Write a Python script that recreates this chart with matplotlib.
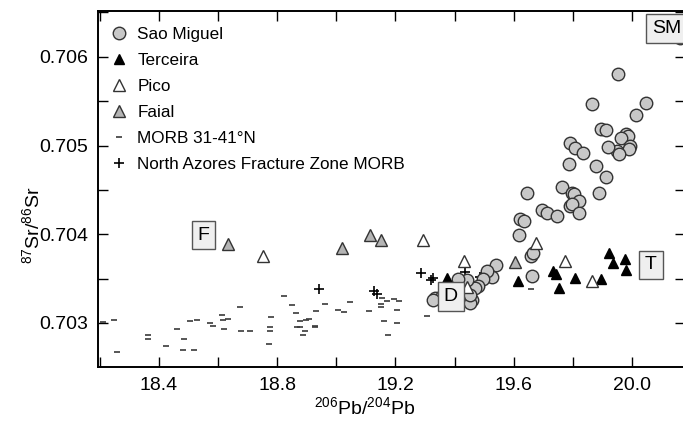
#%%############################################################################
# 87Sr/86Sr vs 206Pb/204Pb for Azores lavas and nearby MORB
###############################################################################
import matplotlib.pyplot as plt
from matplotlib.ticker import MultipleLocator, FormatStrFormatter

plt.rcParams['font.family'] = ['Liberation Sans', 'DejaVu Sans']
plt.rcParams['mathtext.fontset'] = 'custom'
plt.rcParams['mathtext.rm'] = 'Liberation Sans'
plt.rcParams['mathtext.it'] = 'Liberation Sans:italic'

#%%############################################################################
# Data
###############################################################################
saoMiguel_Pb = [20.163, 19.952, 19.865, 20.046, 20.014, 19.895, 19.912, 19.979,
                19.988, 19.964, 19.993, 19.989, 19.948, 19.957, 19.920, 19.791,
                19.807, 19.833, 19.788, 19.877, 19.911, 19.889, 19.646, 19.762,
                19.798, 19.805, 19.820, 19.789, 19.797, 19.820, 19.697, 19.712,
                19.747, 19.621, 19.635, 19.618, 19.657, 19.666, 19.661, 19.540,
                19.526, 19.509, 19.497, 19.480, 19.469, 19.458, 19.452, 19.452,
                19.441, 19.412, 19.334, 19.356, 19.328]
saoMiguel_Sr = [0.70621, 0.70581, 0.70547, 0.70548, 0.70534, 0.70519, 0.70517, 0.70513,
                0.70511, 0.70508, 0.70499, 0.70496, 0.70494, 0.70490, 0.70498, 0.70503,
                0.70497, 0.70492, 0.70479, 0.70477, 0.70464, 0.70447, 0.70447, 0.70453,
                0.70446, 0.70445, 0.70437, 0.70432, 0.70434, 0.70424, 0.70427, 0.70424,
                0.70421, 0.70417, 0.70415, 0.70399, 0.70375, 0.70379, 0.70353, 0.70365,
                0.70352, 0.70359, 0.70350, 0.70342, 0.70339, 0.70326, 0.70322, 0.70332,
                0.70348, 0.70350, 0.70328, 0.70330, 0.70326]

terceira_Pb = [19.375, 19.613, 19.732, 19.744, 19.754, 19.807, 19.895, 19.924,
               19.937, 19.978, 19.980]
terceira_Sr = [0.70351, 0.70347, 0.70359, 0.70355, 0.70339, 0.70351, 0.70350, 0.70379,
               0.70368, 0.70372, 0.70360]

pico_Pb = [18.753, 19.294, 19.432, 19.442, 19.675, 19.775, 19.865]
pico_Sr = [0.70375, 0.70394, 0.70370, 0.70340, 0.70390, 0.70370, 0.70347]

faial_Pb = [18.634, 19.020, 19.114, 19.152, 19.603]
faial_Sr = [0.70389, 0.70385, 0.70399, 0.70393, 0.70369]

morb_Pb = [18.212, 18.249, 18.257, 18.364, 18.364, 18.424, 18.460, 18.486, 18.480,
           18.519, 18.505, 18.528, 18.573, 18.582, 18.612, 18.616, 18.634, 18.621,
           18.674, 18.676, 18.709, 18.778, 18.777, 18.777, 18.773, 18.824, 18.849,
           18.864, 18.876, 18.897, 18.909, 18.868, 18.878, 18.894, 18.888, 18.928,
           18.928, 18.930, 18.962, 19.007, 19.027, 19.046, 19.110, 19.155, 19.170,
           19.150, 19.150, 19.196, 19.213, 19.162, 19.206, 19.206, 19.176, 19.306,
           19.660]
morb_Sr = [0.70301, 0.70303, 0.70267, 0.70286, 0.70282, 0.70274, 0.70293, 0.70282, 0.70269,
           0.70270, 0.70302, 0.70303, 0.70300, 0.70297, 0.70309, 0.70303, 0.70304, 0.70293,
           0.70318, 0.70291, 0.70291, 0.70307, 0.70295, 0.70291, 0.70276, 0.70330, 0.70320,
           0.70311, 0.70302, 0.70303, 0.70304, 0.70295, 0.70296, 0.70291, 0.70286, 0.70297,
           0.70295, 0.70314, 0.70321, 0.70315, 0.70312, 0.70324, 0.70314, 0.70328, 0.70325,
           0.70321, 0.70318, 0.70327, 0.70325, 0.70302, 0.70315, 0.70300, 0.70287, 0.70308,
           0.70338]

nafz_Pb = [18.942, 19.128, 19.136, 19.286, 19.320, 19.328, 19.435, 19.486]
nafz_Sr = [0.70338, 0.70336, 0.70333, 0.70356, 0.70348, 0.70351, 0.70357, 0.70352]

# island labels: text, Pb, Sr
boxLabels = ['F', 'D', 'T', 'SM']
box_Pb = [18.550, 19.387, 20.064, 20.068]
box_Sr = [0.70399, 0.70330, 0.703654, 0.70632]

#%%############################################################################
# Plot
###############################################################################
fig = plt.figure(figsize=(6.83, 4.25), dpi=100)
ax = fig.add_axes([0.1435, 0.1365, 0.8594, 0.8377])

ax.plot(morb_Pb, morb_Sr, '_', color='#3a3a3a', ms=5, mew=1.2, label='MORB 31-41°N')
ax.plot(nafz_Pb, nafz_Sr, '+', color='black', ms=6.5, mew=1.2,
        label='North Azores Fracture Zone MORB')
ax.plot(saoMiguel_Pb, saoMiguel_Sr, 'o', mfc='#c8c8c8', mec='#333333', ms=9, mew=1.0,
        label='Sao Miguel')
ax.plot(terceira_Pb, terceira_Sr, '^', color='black', ms=7, label='Terceira')
ax.plot(pico_Pb, pico_Sr, '^', mfc='white', mec='#333333', ms=9, mew=1.0, label='Pico')
ax.plot(faial_Pb, faial_Sr, '^', mfc='#b4b4b4', mec='#333333', ms=9, mew=1.0, label='Faial')

for txt, xb, yb in zip(boxLabels, box_Pb, box_Sr):
    ax.text(xb, yb, txt, fontsize=14, ha='left' if txt == 'SM' else 'center', va='center',
            zorder=10,
            bbox=dict(boxstyle='square,pad=0.3', fc='#efefef', ec='#555555', lw=1.0))

ax.set_xlim(18.1936, 20.1795)
ax.set_ylim(0.702504, 0.706517)

ax.xaxis.set_major_locator(MultipleLocator(0.4))
ax.xaxis.set_minor_locator(MultipleLocator(0.2))
ax.yaxis.set_major_locator(MultipleLocator(0.001))
ax.yaxis.set_minor_locator(MultipleLocator(0.0005))
ax.xaxis.set_major_formatter(FormatStrFormatter('%.1f'))
ax.yaxis.set_major_formatter(FormatStrFormatter('%.3f'))
ax.tick_params(which='both', direction='in', top=True, right=True, length=7, width=1.0)
ax.tick_params(which='major', labelsize=14, pad=7)
for s in ax.spines.values():
    s.set_linewidth(1.4)

ax.set_xlabel('$^{206}$Pb/$^{204}$Pb', fontsize=14)
ax.set_ylabel('$^{87}$Sr/$^{86}$Sr', fontsize=14)
ax.xaxis.set_label_coords(0.455, -0.083)
ax.yaxis.set_label_coords(-0.093, 0.40)

h, l = ax.get_legend_handles_labels()
order = [2, 3, 4, 5, 0, 1]
ax.legend([h[i] for i in order], [l[i] for i in order], loc='upper left', frameon=False,
          fontsize=12.3, handlelength=1.0, handletextpad=0.6, labelspacing=0.64,
          borderaxespad=0.3, bbox_to_anchor=(0.0, 0.988))

fig.savefig('out.png', dpi=100)
